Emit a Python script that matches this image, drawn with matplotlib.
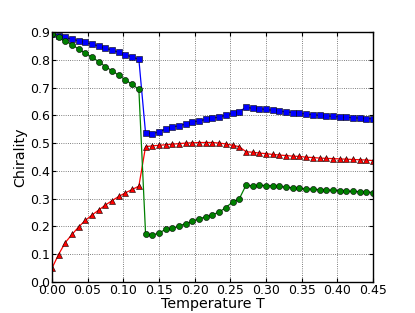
import numpy as np
import matplotlib
matplotlib.use('Agg')
import matplotlib.pyplot as plt

# Temperaturas
T = [0.0, 0.009375, 0.01875, 0.028125, 0.0375, 0.046875, 0.05625, 0.065625,
     0.075, 0.084375, 0.09375, 0.103125, 0.1125, 0.121875, 0.13125, 0.140625,
     0.15, 0.159375, 0.16875, 0.178125, 0.1875, 0.196875, 0.20625, 0.215625,
     0.225, 0.234375, 0.24375, 0.253125, 0.2625, 0.271875, 0.28125, 0.290625,
     0.3, 0.309375, 0.31875, 0.328125, 0.3375, 0.346875, 0.35625, 0.365625,
     0.375, 0.384375, 0.39375, 0.403125, 0.4125, 0.421875, 0.43125, 0.440625,
     0.45]

# Quiralidad (azul, cuadrados)
chir_blue = [0.893, 0.887, 0.880, 0.874, 0.868, 0.862, 0.856, 0.849, 0.841,
             0.835, 0.826, 0.817, 0.810, 0.801,
             0.536, 0.534, 0.540, 0.551, 0.557, 0.563, 0.568, 0.575, 0.580,
             0.585, 0.589, 0.594, 0.600, 0.608, 0.613, 0.629, 0.625, 0.624,
             0.621, 0.618, 0.615, 0.612, 0.610, 0.607, 0.605, 0.602, 0.600,
             0.598, 0.596, 0.594, 0.593, 0.591, 0.590, 0.588, 0.587]

# Quiralidad (rojo, triangulos)
chir_red = [0.049, 0.099, 0.142, 0.171, 0.198, 0.222, 0.241, 0.259, 0.277,
            0.293, 0.308, 0.321, 0.333, 0.345,
            0.487, 0.490, 0.492, 0.494, 0.496, 0.498, 0.500, 0.501, 0.502,
            0.502, 0.502, 0.500, 0.497, 0.492, 0.487, 0.469, 0.467, 0.464,
            0.462, 0.459, 0.457, 0.455, 0.453, 0.452, 0.449, 0.448, 0.446,
            0.445, 0.444, 0.443, 0.442, 0.441, 0.440, 0.439, 0.437]

# Quiralidad (verde, circulos)
chir_green = [0.893, 0.883, 0.868, 0.853, 0.839, 0.823, 0.809, 0.793, 0.775,
              0.760, 0.744, 0.727, 0.711, 0.693,
              0.174, 0.168, 0.177, 0.189, 0.193, 0.202, 0.210, 0.219, 0.228,
              0.234, 0.242, 0.252, 0.268, 0.288, 0.299, 0.348, 0.346, 0.348,
              0.347, 0.346, 0.344, 0.341, 0.339, 0.337, 0.335, 0.334, 0.332,
              0.331, 0.330, 0.329, 0.327, 0.326, 0.325, 0.324, 0.322]

xticks = [0.00, 0.05, 0.10, 0.15, 0.20, 0.25, 0.30, 0.35, 0.40, 0.45]
yticks = [0.0, 0.1, 0.2, 0.3, 0.4, 0.5, 0.6, 0.7, 0.8, 0.9]

fig = plt.figure(figsize=(4.15, 3.13), dpi=100)
ax = fig.add_axes([0.125, 0.099, 0.774, 0.799])

estilo = dict(lw=0.9, ms=4.4, mec='k', mew=0.4)
ax.plot(T, chir_blue, 's-', color='#0000ff', **estilo)
ax.plot(T, chir_red, '^-', color='#ff0000', **estilo)
ax.plot(T, chir_green, 'o-', color='#008000', **estilo)

ax.set_xlim(0, 0.45)
ax.set_ylim(0, 0.9)
ax.set_xticks(xticks)
ax.set_yticks(yticks)
ax.set_xticklabels(['%.2f' % t for t in xticks])
ax.set_yticklabels(['%.1f' % t for t in yticks])
ax.tick_params(direction='in', top=True, right=True, labelsize=9,
               length=3, pad=1.5)
ax.grid(True, linestyle=':', color='#555555', linewidth=0.6)
for s in ax.spines.values():
    s.set_linewidth(1.0)

ax.set_xlabel('Temperature T', fontsize=10.3, labelpad=0)
ax.set_ylabel('Chirality', fontsize=10.3, labelpad=2)

fig.savefig('out.png', dpi=100)
